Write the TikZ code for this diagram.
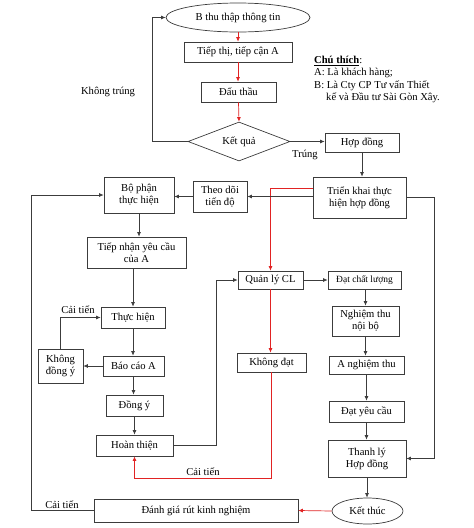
\documentclass[tikz,border=0pt]{standalone}
\usepackage{fontspec}
\setmainfont{Liberation Serif}
\usetikzlibrary{shapes.geometric,arrows.meta}
\definecolor{lineclr}{RGB}{60,60,60}
\definecolor{redclr}{RGB}{225,35,35}
\tikzset{
  box/.style={draw=lineclr,line width=0.7pt,rectangle,inner sep=0pt,align=center,font=\fontsize{10.6}{12}\selectfont},
  ell/.style={draw=lineclr,line width=0.7pt,ellipse,inner sep=0pt,align=center,font=\fontsize{10.6}{12}\selectfont},
  arr/.style={draw=lineclr,line width=0.7pt,-{Latex[length=4.5pt,width=4pt]}},
  redarr/.style={draw=redclr,line width=0.7pt,-{Latex[length=4.5pt,width=4pt]}},
  lbl/.style={inner sep=0pt,font=\fontsize{10.6}{12}\selectfont}
}
\begin{document}
\begin{tikzpicture}[x=1pt,y=1pt,yscale=-1,xscale=1]
    \useasboundingbox (0,0) rectangle (474,528);
    %Shape: Ellipse, Rectangles and Diamond
    \node [ell,minimum width=144pt,minimum height=29pt] (thuthap) at (238,17.5) {B thu thập thông tin};
    \node [box,minimum width=108pt,minimum height=20pt] (tiepthi) at (238,52) {Tiếp thị, tiếp cận A};
    \node [box,minimum width=75pt,minimum height=20pt] (dauthau) at (238.5,92) {Đấu thầu};
    \node [box,diamond,aspect=2.6,minimum width=102pt,minimum height=39pt] (ketqua) at (239,141.5) {Kết quả};
    \node [box,minimum width=74pt,minimum height=19pt] (hopdong) at (362,142.5) {Hợp đồng};
    \node [box,minimum width=93pt,minimum height=41pt] (trienkhai) at (359.5,197.5) {Triển khai thực\\hiện hợp đồng};
    \node [box,minimum width=54pt,minimum height=31pt] (theodoi) at (220,196.5) {Theo dõi\\tiến độ};
    \node [box,minimum width=70pt,minimum height=36pt] (bophan) at (139,195) {Bộ phận\\thực hiện};
    \node [box,minimum width=99pt,minimum height=31pt] (tiepnhan) at (136.5,252.5) {Tiếp nhận yêu cầu\\của A};
    \node [box,minimum width=64pt,minimum height=21pt] (thuchien) at (133,317.5) {Thực hiện};
    \node [box,minimum width=45pt,minimum height=34pt] (khongdongy) at (60.5,366) {Không\\đồng ý};
    \node [box,minimum width=61pt,minimum height=20pt] (baocao) at (133.5,366) {Báo cáo A};
    \node [box,minimum width=57pt,minimum height=21pt] (dongy) at (134.5,405.5) {Đồng ý};
    \node [box,minimum width=77pt,minimum height=21pt] (hoanthien) at (134.5,445.5) {Hoàn thiện};
    \node [box,minimum width=65pt,minimum height=18pt] (quanly) at (270.5,280) {Quản lý CL};
    \node [box,minimum width=73pt,minimum height=18pt,font=\fontsize{9.5}{11}\selectfont] (datcl) at (364.5,280) {Đạt chất lượng};
    \node [box,minimum width=67pt,minimum height=30pt] (nghiemthu) at (365.5,321) {Nghiệm thu\\nội bộ};
    \node [box,minimum width=69pt,minimum height=19pt] (khongdat) at (271.5,362.5) {Không đạt};
    \node [box,minimum width=75pt,minimum height=18pt] (anghiemthu) at (366.5,365) {A nghiệm thu};
    \node [box,minimum width=75pt,minimum height=21pt] (datyc) at (366.5,411.5) {Đạt yêu cầu};
    \node [box,minimum width=78pt,minimum height=37pt] (thanhly) at (367,458.5) {Thanh lý\\Hợp đồng};
    \node [ell,minimum width=71pt,minimum height=26pt] (ketthuc) at (367.5,511) {Kết thúc};
    \node [box,minimum width=204pt,minimum height=23pt] (danhgia) at (196,510.5) {Đánh giá rút kinh nghiệm};

    %Connectors, red
    \draw [redarr] (thuthap.south) -- (thuthap.south |- tiepthi.north);
    \draw [redarr] (tiepthi.south) -- (tiepthi.south |- dauthau.north);
    \draw [redarr] (dauthau.south) -- (ketqua.north);
    \draw [redarr] ([yshift=-9.5pt]trienkhai.west) -| (quanly.north);
    \draw [redarr] (quanly.south) -- (quanly.south |- khongdat.north);
    \draw [redarr] (khongdat.south) -- ++(0,106) -| (hoanthien.south);
    \draw [redarr] (ketthuc.west) -- (danhgia.east);

    %Connectors, black
    \draw [arr] (ketqua.west) -- ++(-35,0) |- (thuthap.west);
    \draw [arr] (ketqua.east) -- (ketqua.east -| hopdong.west);
    \draw [arr] (hopdong.south) -- (hopdong.south |- trienkhai.north);
    \draw [arr] (trienkhai.west |- theodoi.east) -- (theodoi.east);
    \draw [arr] (theodoi.west) -- (theodoi.west -| bophan.east);
    \draw [arr] (bophan.south) -- (bophan.south |- tiepnhan.north);
    \draw [arr] (thuchien.north |- tiepnhan.south) -- (thuchien.north);
    \draw [arr] (khongdongy.north) |- (thuchien.west);
    \draw [arr] (thuchien.south) -- (thuchien.south |- baocao.north);
    \draw [arr] (baocao.west) -- (khongdongy.east);
    \draw [arr] (baocao.south) -- (baocao.south |- dongy.north);
    \draw [arr] (dongy.south) -- (dongy.south |- hoanthien.north);
    \draw [arr] (hoanthien.east) -- ++(43,0) |- (quanly.west);
    \draw [arr] (quanly.east) -- (datcl.west);
    \draw [arr] (nghiemthu.north |- datcl.south) -- (nghiemthu.north);
    \draw [arr] (nghiemthu.south) -- (nghiemthu.south |- anghiemthu.north);
    \draw [arr] (anghiemthu.south) -- (anghiemthu.south |- datyc.north);
    \draw [arr] (datyc.south) -- (datyc.south |- thanhly.north);
    \draw [arr] (trienkhai.east) -- ++(28,0) |- (thanhly.east);
    \draw [arr] (thanhly.south) -- (thanhly.south |- ketthuc.north);
    \draw [arr] (danhgia.west) -- ++(-62,0) |- (bophan.west);

    % Text Node
    \node [lbl] (khongtrung) at (108,92) {Không trúng};
    % Text Node
    \node [lbl] (trung) at (305,155) {Trúng};
    % Text Node
    \node [lbl] (caitien1) at (78,309.5) {Cải tiến};
    % Text Node
    \node [lbl] (caitien2) at (203,471.5) {Cải tiến};
    % Text Node
    \node [lbl] (caitien3) at (62,505) {Cải tiến};
    % Text Node
    \node [lbl,anchor=north west,align=left,font=\fontsize{10.6}{12.3}\selectfont] (chuthich) at (314,56) {\underline{\textbf{Chú thích}}:\\A: Là khách hàng;\\B: Là Cty CP Tư vấn Thiết\\\hspace*{12pt}kế và Đầu tư Sài Gòn Xây.};
\end{tikzpicture}
\end{document}
